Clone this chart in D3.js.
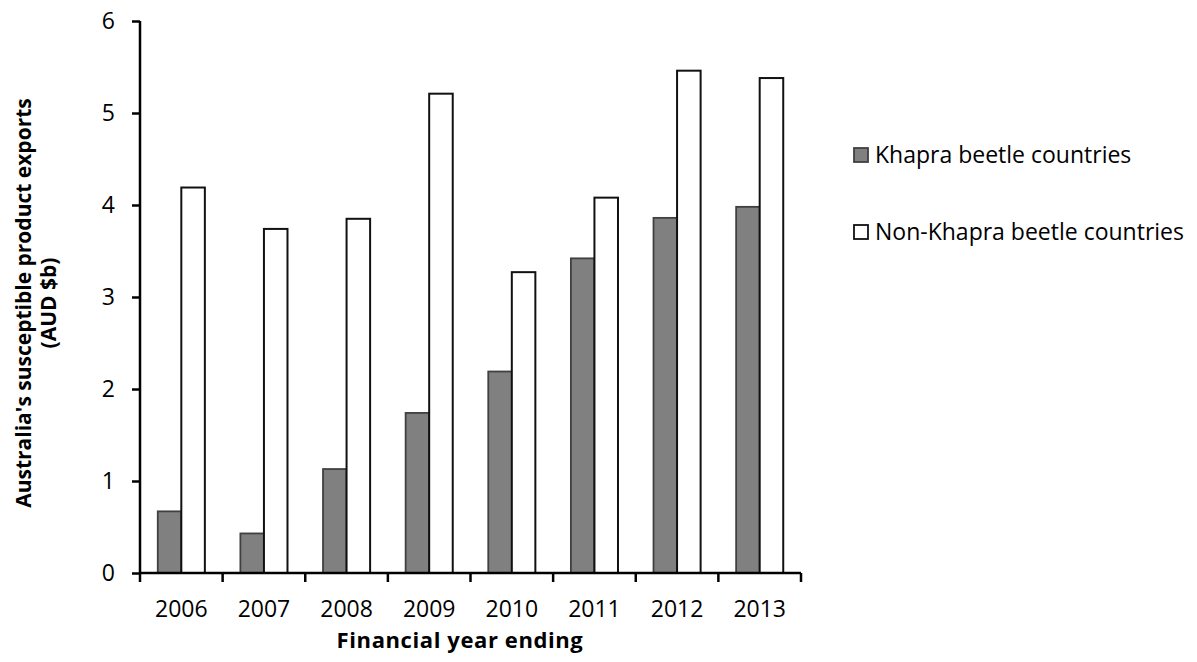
<!DOCTYPE html>
<html><head><meta charset="utf-8">
<script src="https://cdn.jsdelivr.net/npm/d3@7"></script>
<style>body{margin:0;background:#fff}svg{display:block}</style>
</head><body>
<svg id="c" width="1197" height="662"></svg>
<script>
const years = ["2006","2007","2008","2009","2010","2011","2012","2013"];
const khapra = [0.67, 0.43, 1.13, 1.74, 2.19, 3.42, 3.86, 3.98];
const nonKhapra = [4.19, 3.74, 3.85, 5.21, 3.27, 4.08, 5.46, 5.38];
const yTicks = [0,1,2,3,4,5,6];
const seriesNames = ["Khapra beetle countries","Non-Khapra beetle countries"];

const svg = d3.select("#c");
const font = "'Open Sans', sans-serif";
const L = 140, R = 801, T = 21, B = 573;
const x = d3.scaleBand().domain(years).range([L, R]).paddingInner(0).paddingOuter(0);
const y = d3.scaleLinear().domain([0, 6]).range([B, T]);
const bw = x.bandwidth() * 0.285;
const off = (x.bandwidth() - 2 * bw) / 2;

const g = svg.append("g");
g.selectAll(".k").data(years).join("rect")
  .attr("x", d => x(d) + off).attr("width", bw)
  .attr("y", (d,i) => y(khapra[i])).attr("height", (d,i) => y(0) - y(khapra[i]))
  .attr("fill", "#808080").attr("stroke", "#404040").attr("stroke-width", 1.8);
g.selectAll(".n").data(years).join("rect")
  .attr("x", d => x(d) + off + bw).attr("width", bw)
  .attr("y", (d,i) => y(nonKhapra[i])).attr("height", (d,i) => y(0) - y(nonKhapra[i]))
  .attr("fill", "#fff").attr("stroke", "#111").attr("stroke-width", 2);

// y axis
const ya = svg.append("g").attr("transform", `translate(${L},0)`)
  .call(d3.axisLeft(y).tickValues(yTicks).tickSize(8).tickPadding(17).tickFormat(d3.format("d")));
ya.select(".domain").attr("stroke", "#000").attr("stroke-width", 2.5).attr("d", `M0,${T}V${B}`);
ya.selectAll(".tick line").attr("stroke", "#000").attr("stroke-width", 2.5);
ya.selectAll(".tick text").attr("font-family", font).attr("font-size", 23).attr("fill", "#000");

// x axis
const xa = svg.append("g").attr("transform", `translate(0,${B})`);
xa.append("line").attr("x1", L).attr("x2", R).attr("stroke", "#000").attr("stroke-width", 2.5);
const bounds = years.map(d => x(d)).concat([R]);
xa.selectAll(".xt").data(bounds).join("line")
  .attr("x1", d => d).attr("x2", d => d).attr("y1", 0).attr("y2", 9)
  .attr("stroke", "#000").attr("stroke-width", 2.5);
xa.selectAll(".xl").data(years).join("text")
  .attr("x", d => x(d) + x.bandwidth()/2).attr("y", 44)
  .attr("text-anchor", "middle").attr("font-family", font).attr("font-size", 23)
  .text(d => d);

// axis titles
svg.append("text").attr("x", 460).attr("y", 648).attr("text-anchor", "middle")
  .attr("font-family", font).attr("font-weight", "bold").attr("font-size", 22)
  .attr("letter-spacing", 0.6)
  .text("Financial year ending");
const yt = svg.append("text").attr("transform", `translate(0,303) rotate(-90)`)
  .attr("text-anchor", "middle").attr("font-family", font).attr("font-weight", "bold").attr("font-size", 21);
yt.append("tspan").attr("x", 0).attr("y", 31).text("Australia's susceptible product exports");
yt.append("tspan").attr("x", 0).attr("y", 56).text("(AUD $b)");

// legend
const leg = svg.append("g");
const ly = [155, 232];
leg.selectAll("rect").data(seriesNames).join("rect")
  .attr("x", 854).attr("y", (d,i) => ly[i] - 7).attr("width", 14).attr("height", 14)
  .attr("fill", (d,i) => i ? "#fff" : "#808080")
  .attr("stroke", (d,i) => i ? "#111" : "#404040").attr("stroke-width", 1.8);
leg.selectAll("text").data(seriesNames).join("text")
  .attr("x", 875).attr("y", (d,i) => ly[i] + 8)
  .attr("font-family", font).attr("font-size", 23).text(d => d);
</script>
</body></html>
